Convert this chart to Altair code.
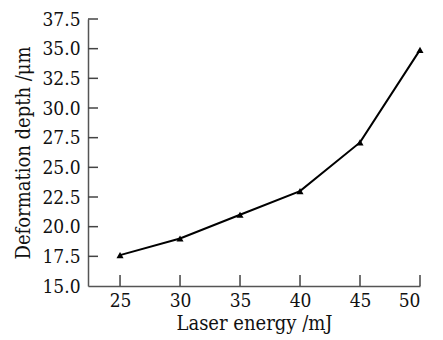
import altair as alt
import pandas as pd

energy = [25, 30, 35, 40, 45, 50]
depth = [17.6, 19.0, 21.0, 23.0, 27.1, 34.9]
x_ticks = [25, 30, 35, 40, 45, 50]
y_ticks = [17.5, 20.0, 22.5, 25.0, 27.5, 30.0, 32.5, 35.0, 37.5]
y_labels = [15.0] + y_ticks

W, H = 332, 267
FONT = "DejaVu Serif Condensed"
FS = 19
TFS = 20

df = pd.DataFrame({"energy": energy, "depth": depth})
xt = pd.DataFrame({"v": x_ticks})
yt = pd.DataFrame({"v": y_ticks})

xs = alt.Scale(domain=[22.33, 50], nice=False, zero=False)
ys = alt.Scale(domain=[15, 37.5], nice=False, zero=False)

xaxis = alt.Axis(values=x_ticks, tickSize=0, labelPadding=5, grid=False, labelOverlap=False,
                 title="Laser energy /mJ", titlePadding=3)
yaxis = alt.Axis(values=y_labels, tickSize=0, labelPadding=8, grid=False, format=".1f",
                 labelOverlap=False, title="Deformation depth /μm", titlePadding=8)

line = alt.Chart(df).mark_line(color="black", strokeWidth=2).encode(
    x=alt.X("energy:Q", scale=xs, axis=xaxis),
    y=alt.Y("depth:Q", scale=ys, axis=yaxis),
)
pts = alt.Chart(df).mark_point(shape="triangle-up", filled=True, color="black",
                               size=50, opacity=1).encode(
    x=alt.X("energy:Q", scale=xs, axis=xaxis),
    y=alt.Y("depth:Q", scale=ys, axis=yaxis),
)
yrules = alt.Chart(yt).mark_rule(color="#444", strokeWidth=1.5).encode(
    y=alt.Y("v:Q", scale=ys, axis=yaxis),
    x=alt.value(0), x2=alt.value(10),
)
xrules = alt.Chart(xt).mark_rule(color="#444", strokeWidth=1.5).encode(
    x=alt.X("v:Q", scale=xs, axis=xaxis),
    y=alt.value(H), y2=alt.value(H - 11),
)

chart = alt.layer(line, pts, yrules, xrules).properties(
    width=W, height=H,
    autosize=alt.AutoSizeParams(type="none"),
    padding={"left": 80, "top": 11, "right": 15, "bottom": 54},
).configure_view(stroke=None).configure_axis(
    domainColor="#555", domainWidth=1.5, labelFontSize=FS, titleFontSize=TFS,
    labelFont=FONT, titleFont=FONT, labelColor="#111", titleColor="#111",
    titleFontWeight="normal", labelOverlap=False,
)

chart.save("out.html", embed_options={"renderer": "svg", "actions": False})
